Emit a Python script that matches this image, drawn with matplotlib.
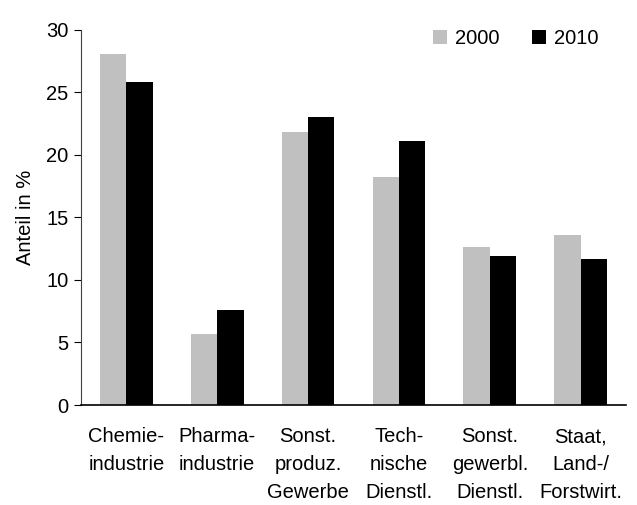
import matplotlib.pyplot as plt
import numpy as np

plt.rcParams['font.family'] = ['Liberation Sans', 'DejaVu Sans']

categories = ["Chemie-\nindustrie", "Pharma-\nindustrie", "Sonst.\nproduz.\nGewerbe",
              "Tech-\nnische\nDienstl.", "Sonst.\ngewerbl.\nDienstl.", "Staat,\nLand-/\nForstwirt."]
values_2000 = [28.1, 5.7, 21.8, 18.2, 12.6, 13.6]
values_2010 = [25.8, 7.6, 23.0, 21.1, 11.9, 11.7]
years = ["2000", "2010"]

fig = plt.figure(figsize=(6.37, 5.05), dpi=100)
ax = fig.add_axes([0.127, 0.198, 0.856, 0.743])

x = np.arange(len(categories))
w = 0.29
ax.bar(x - w/2, values_2000, w, color='#c0c0c0', label=years[0])
ax.bar(x + w/2, values_2010, w, color='black', label=years[1])

ax.set_xlim(-0.5, len(categories) - 0.5)
ax.set_ylim(0, 30)
ax.set_yticks(range(0, 31, 5))
ax.set_xticks(x)
ax.set_xticklabels(categories, fontsize=14.5, linespacing=1.58)
ax.tick_params(axis='x', length=0, pad=16)
ax.tick_params(axis='y', labelsize=14.5, direction='out', length=5, width=0.8, pad=4)
ax.set_ylabel("Anteil in %", fontsize=14.5, labelpad=8)

for s in ['top', 'right']:
    ax.spines[s].set_visible(False)
ax.spines['left'].set_color('#404040')
ax.spines['left'].set_linewidth(0.8)
ax.spines['bottom'].set_linewidth(1.2)

ax.legend(ncol=2, frameon=False, fontsize=14.5, loc='upper right',
          bbox_to_anchor=(0.982, 1.05), handlelength=0.7, handleheight=0.7,
          handletextpad=0.4, columnspacing=1.6)

fig.savefig("out.png", dpi=100)
